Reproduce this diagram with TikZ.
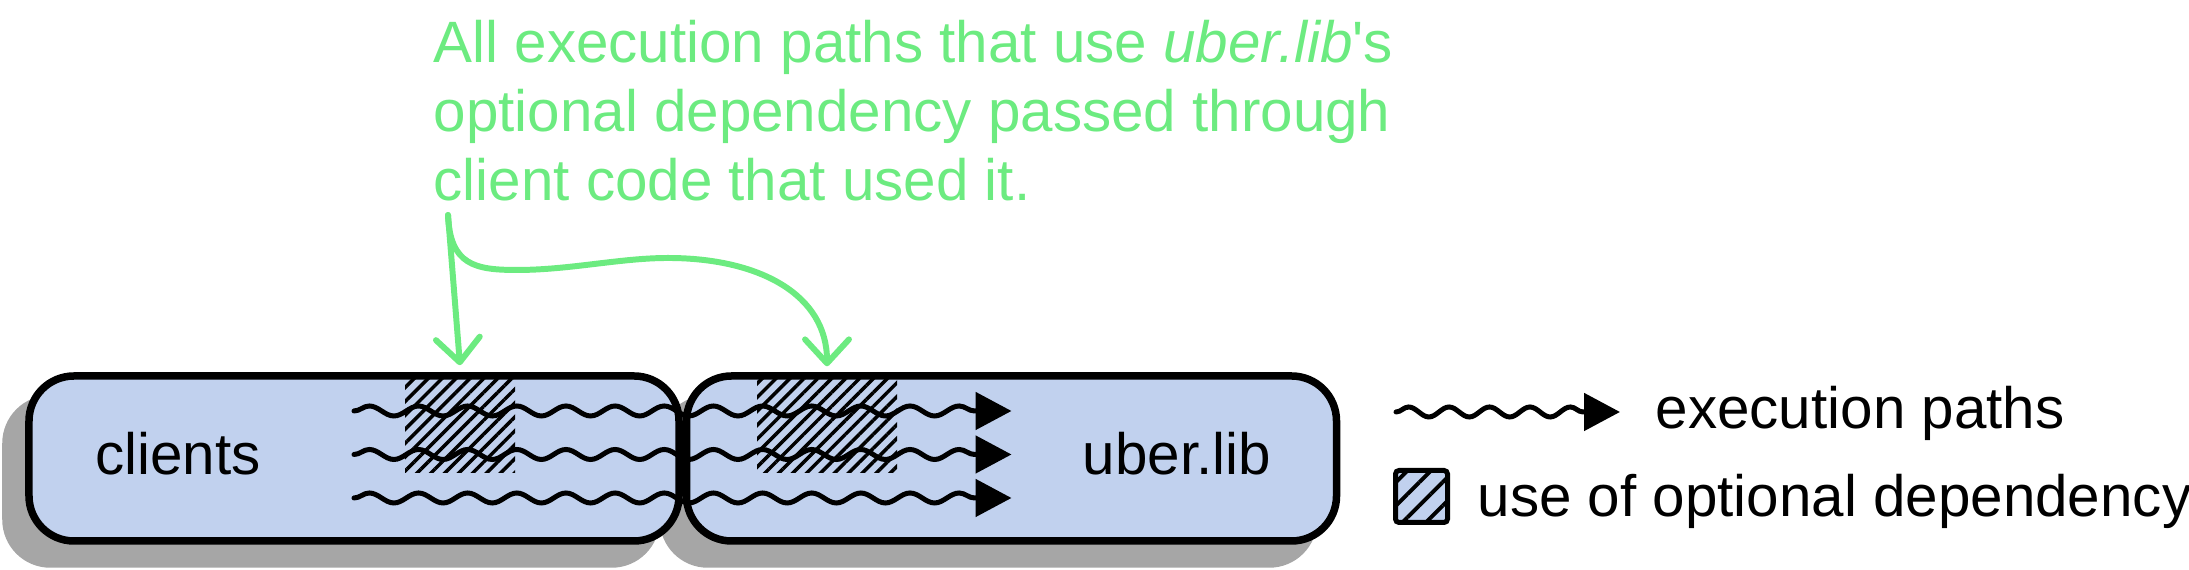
\documentclass[tikz,border=0pt]{standalone}
\usepackage{fontspec}
\setmainfont{Liberation Sans}
\usetikzlibrary{arrows.meta,decorations.pathmorphing,patterns.meta,backgrounds}
\definecolor{boxblue}{RGB}{193,209,238}
\definecolor{shadowgray}{RGB}{166,166,166}
\definecolor{notegreen}{RGB}{108,235,128}

\begin{document}
\begin{tikzpicture}[
  box/.style={rectangle, draw, line width=0.075cm, rounded corners=0.45cm, fill=boxblue, minimum width=6.5cm, minimum height=1.65cm, inner sep=0},
  boxshadow/.style={rectangle, fill=shadowgray, rounded corners=0.48cm, minimum width=6.575cm, minimum height=1.725cm, inner sep=0},
  boxtext/.style={inner sep=0, anchor=base},
  usage/.style={rectangle, inner sep=0, pattern={Lines[angle=45,distance=2.8pt,line width=1pt]}},
  legendbox/.style={rectangle, draw, line width=0.05cm, rounded corners=1pt, minimum size=0.52cm, inner sep=0, preaction={fill=boxblue}, pattern={Lines[angle=45,distance=4.7pt,line width=1.1pt]}},
  execpath/.style={line width=0.05cm, line cap=round, decorate, decoration={snake, segment length=0.4915cm, amplitude=0.05cm, post length=0.33cm}, -{Triangle[length=0.36cm,width=0.37cm]}},
  notearrow/.style={draw=notegreen, line width=1.7pt, line cap=round, -{Straight Barb[length=6.8pt,width=12.5pt,round]}},
  font=\fontsize{16.6pt}{19.6pt}\selectfont,
  node distance=6.575cm
]
\useasboundingbox (0,0) rectangle (21.89,5.70);

% Clients and library
\node (clients) [box] at (3.54,1.115) {};
\node (uber) [box, right of=clients] {};
\node (clientstext) [boxtext] at (1.78,0.95) {clients};
\node (ubertext) [boxtext] at (11.77,0.95) {uber.lib};

% Shadows
\begin{scope}[on background layer]
\node (clientsshadow) [boxshadow] at ([shift={(-0.23,-0.23)}]clients.center) {};
\node (ubershadow) [boxshadow] at ([shift={(-0.23,-0.23)}]uber.center) {};
\end{scope}

% Uses of the optional dependency
\node (clientuse) [usage, minimum width=1.1cm, minimum height=0.95cm] at (4.60,1.445) {};
\node (uberuse) [usage, minimum width=1.4cm, minimum height=0.95cm] at (8.27,1.445) {};

% Execution paths
\draw[execpath] ([yshift=0.475cm]clients.center) -- ([yshift=0.475cm]uber.center);
\draw[execpath] ([yshift=0.04cm]clients.center) -- ([yshift=0.04cm]uber.center);
\draw[execpath] ([yshift=-0.395cm]clients.center) -- ([yshift=-0.395cm]uber.center);

% Note
\node (note) [anchor=north west, inner sep=0, align=left, text=notegreen] at (4.33,5.50) {All execution paths that use \textit{uber.lib}\textquotesingle s\\optional dependency passed through\\client code that used it.};
\coordinate (notestart) at ([xshift=0.15cm,yshift=-0.13cm]note.south west);
\draw[notearrow] (notestart) -- ([yshift=0.11cm]clientuse.north);
\draw[notearrow] (notestart) .. controls (4.50,3.05) and (4.75,3.0) .. (5.17,3.0) .. controls (5.7,3.0) and (6.2,3.12) .. (6.68,3.12) .. controls (7.6,3.12) and (8.27,2.75) .. ([yshift=0.11cm]uberuse.north);

% Legend
\coordinate (legendpathstart) at (13.96,1.58);
\coordinate (legendpathend) at (16.20,1.58);
\draw[execpath, decoration={segment length=0.4043cm}] (legendpathstart) -- (legendpathend);
\node (pathslabel) [anchor=base west, inner sep=0] at (16.55,1.41) {execution paths};
\node (usebox) [legendbox] at (14.215,0.735) {};
\node (uselabel) [anchor=base west, inner sep=0] at (14.77,0.53) {use of optional dependency};

\end{tikzpicture}
\end{document}
